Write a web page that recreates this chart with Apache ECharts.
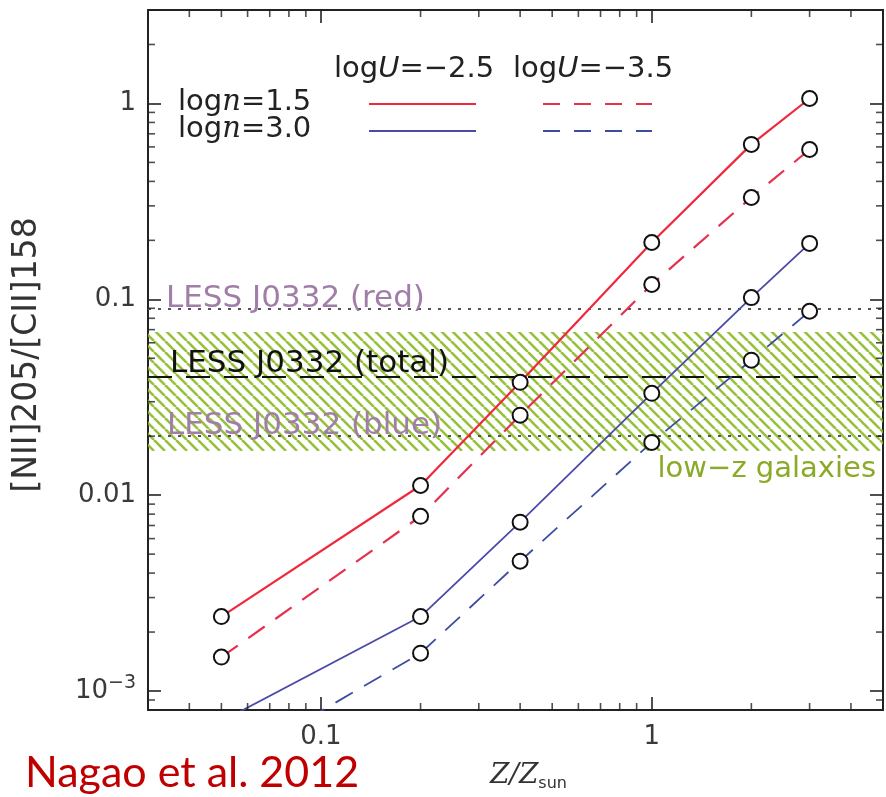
<!DOCTYPE html>
<html>
<head>
<meta charset="utf-8">
<script src="https://cdn.jsdelivr.net/npm/echarts@6/dist/echarts.min.js"></script>
<style>
html,body{margin:0;padding:0;background:#fff;}
#main{width:886px;height:797px;}
</style>
</head>
<body>
<div id="main"></div>
<script>
// ---- data ----
var metallicity = [0.05, 0.2, 0.4, 1, 2, 3];
var n15_U25 = [0.0024, 0.0112, 0.0377, 0.195, 0.618, 1.06];
var n15_U35 = [0.00149, 0.0078, 0.0256, 0.119, 0.331, 0.582];
var n30_U25 = [0.0007, 0.0024, 0.00728, 0.0331, 0.102, 0.193];
var n30_U35 = [0.0004, 0.00156, 0.0046, 0.0186, 0.0489, 0.0869];

var lessRed = 0.088;
var lessTotal = 0.044;
var lessBlue = 0.0202;
var lowzBand = [0.0168, 0.068];

var xRange = [0.03, 5];
var yRange = [0.0008, 3];
var xMinorTicks = [0.04,0.05,0.06,0.07,0.08,0.09,0.2,0.3,0.4,0.5,0.6,0.7,0.8,0.9,2,3,4];
var yMinorTicks = [0.0009,0.002,0.003,0.004,0.005,0.006,0.007,0.008,0.009,
                   0.02,0.03,0.04,0.05,0.06,0.07,0.08,0.09,
                   0.2,0.3,0.4,0.5,0.6,0.7,0.8,0.9,2];

function pairs(xs, ys){ return xs.map(function(x,i){return [x, ys[i]];}); }

// hatch pattern
var HS = 11;
var hatch = document.createElement('canvas');
hatch.width = HS; hatch.height = HS;
(function(){
  var c = hatch.getContext('2d');
  c.strokeStyle = 'rgba(138,186,38,0.9)';
  c.lineWidth = 2.6;
  [-HS,0,HS].forEach(function(o){
    c.beginPath(); c.moveTo(o,0); c.lineTo(o+HS,HS); c.stroke();
  });
})();

var FONT = 'DejaVu Sans';
var chart = echarts.init(document.getElementById('main'));

function isPow10(v){ var l = Math.log10(v); return Math.abs(l - Math.round(l)) < 1e-6; }

var symStyle = {color:'#111', borderColor:'#111', borderWidth:2};
var tickColor = '#222';
var ML = 7; // minor tick length

function tickSeries(data, size, offset){
  return {type:'scatter', data:data, symbol:'rect', symbolSize:size, symbolOffset:offset,
    itemStyle:{color:tickColor}, silent:true, clip:false, z:6};
}

var option = {
  backgroundColor:'#fff',
  animation:false,
  grid:{left:148, top:10, width:740, height:700, containLabel:false},
  xAxis:[{
    type:'log', min:xRange[0], max:xRange[1], logBase:10,
    axisLine:{show:true, onZero:false, lineStyle:{color:'#222', width:2}},
    axisTick:{show:true, inside:true, length:13, lineStyle:{color:'#222', width:1.6}},
    axisLabel:{color:'#3a3a3a', fontFamily:FONT, fontSize:26, margin:14,
      formatter:function(v){ return isPow10(v) ? String(+v.toPrecision(6)) : ''; }},
    splitLine:{show:false},
    name:'{z|Z/Z}{s|sun}', nameLocation:'middle', nameGap:50,
    nameTextStyle:{padding:[0,0,0,26], rich:{
      z:{fontFamily:'DejaVu Serif', fontStyle:'italic', fontSize:28, color:'#333'},
      s:{fontFamily:FONT, fontSize:16, color:'#333', padding:[16,0,0,0]}
    }}
  },{
    type:'log', min:xRange[0], max:xRange[1], position:'top',
    axisLine:{show:true, lineStyle:{color:'#222', width:2}},
    axisTick:{show:true, inside:true, length:13, lineStyle:{color:'#222', width:1.6}},
    axisLabel:{show:false}, splitLine:{show:false}
  }],
  yAxis:[{
    type:'log', min:yRange[0], max:yRange[1], logBase:10,
    axisLine:{show:true, onZero:false, lineStyle:{color:'#222', width:2}},
    axisTick:{show:true, inside:true, length:13, lineStyle:{color:'#222', width:1.6}},
    axisLabel:{color:'#3a3a3a', fontFamily:FONT, fontSize:26, margin:12,
      formatter:function(v){
        if (!isPow10(v)) return '';
        if (v < 0.005) return '{b|10}{sup|−3}';
        return String(+v.toPrecision(6));
      },
      rich:{b:{fontFamily:FONT, fontSize:26, color:'#3a3a3a'},
            sup:{fontFamily:FONT, fontSize:19, color:'#3a3a3a', padding:[0,0,16,0]}}
    },
    splitLine:{show:false},
    name:'[NII]205/[CII]158', nameLocation:'middle', nameGap:104, nameRotate:90,
    nameTextStyle:{fontFamily:FONT, fontSize:33, color:'#333', padding:[0,0,0,10]}
  },{
    type:'log', min:yRange[0], max:yRange[1], position:'right',
    axisLine:{show:true, lineStyle:{color:'#222', width:2}},
    axisTick:{show:true, inside:true, length:13, lineStyle:{color:'#222', width:1.6}},
    axisLabel:{show:false}, splitLine:{show:false}
  }],
  series:[
    {
      type:'line', name:'band', data:[], z:1,
      markArea:{silent:true,
        itemStyle:{color:{image:hatch, repeat:'repeat'}},
        label:{show:true, position:'insideBottomRight', offset:[-2,38], formatter:'low−z galaxies',
          color:'#8aaa28', fontFamily:FONT, fontSize:29},
        data:[[{yAxis:lowzBand[0]},{yAxis:lowzBand[1]}]]
      },
      markLine:{silent:true, symbol:['none','none'],
        data:[
          {yAxis:lessRed, lineStyle:{type:[3,7], color:'#555', width:2},
            label:{formatter:'LESS J0332 (red)', color:'#a07ea8', distance:-6}},
          {yAxis:lessTotal, lineStyle:{type:[24,14], color:'#111', width:2},
            label:{formatter:'LESS J0332 (total)', color:'#111', distance:-2}},
          {yAxis:lessBlue, lineStyle:{type:[3,7], color:'#555', width:2},
            label:{formatter:'LESS J0332 (blue)', color:'#a07ea8', distance:-5}}
        ],
        label:{show:true, position:'insideStartTop', distance:0, padding:[0,0,0,24],
          fontFamily:FONT, fontSize:31}
      }
    },
    {type:'line', name:'n15_U25', data:pairs(metallicity, n15_U25), z:5,
      lineStyle:{color:'#f0283c', width:2.2}, symbol:'emptyCircle', symbolSize:15, itemStyle:symStyle},
    {type:'line', name:'n15_U35', data:pairs(metallicity, n15_U35), z:5,
      lineStyle:{color:'#e6304e', width:2.2, type:[20,13]}, symbol:'emptyCircle', symbolSize:15, itemStyle:symStyle},
    {type:'line', name:'n30_U25', data:pairs(metallicity, n30_U25), z:5,
      lineStyle:{color:'#4a4aa8', width:1.8}, symbol:'emptyCircle', symbolSize:15, itemStyle:symStyle},
    {type:'line', name:'n30_U35', data:pairs(metallicity, n30_U35), z:5,
      lineStyle:{color:'#3e4ca0', width:1.8, type:[20,13]}, symbol:'emptyCircle', symbolSize:15, itemStyle:symStyle},
    tickSeries(xMinorTicks.map(function(v){return [v, yRange[0]];}), [1.6, ML], [0, -ML/2]),
    tickSeries(xMinorTicks.map(function(v){return [v, yRange[1]];}), [1.6, ML], [0, ML/2]),
    tickSeries(yMinorTicks.map(function(v){return [xRange[0], v];}), [ML, 1.6], [ML/2, 0]),
    tickSeries(yMinorTicks.map(function(v){return [xRange[1], v];}), [ML, 1.6], [-ML/2, 0])
  ],
  graphic:[
    {type:'text', left:334, top:55, style:{text:'{a|log}{i|U}{a|=−2.5}', rich:{
      a:{fontFamily:FONT, fontSize:29, fill:'#222'}, i:{fontFamily:FONT, fontStyle:'italic', fontSize:29, fill:'#222'}}}},
    {type:'text', left:513, top:55, style:{text:'{a|log}{i|U}{a|=−3.5}', rich:{
      a:{fontFamily:FONT, fontSize:29, fill:'#222'}, i:{fontFamily:FONT, fontStyle:'italic', fontSize:29, fill:'#222'}}}},
    {type:'text', left:178, top:88, style:{text:'{a|log}{i|n}{a|=1.5}', rich:{
      a:{fontFamily:FONT, fontSize:29, fill:'#222'}, i:{fontFamily:'DejaVu Serif', fontStyle:'italic', fontSize:29, fill:'#222'}}}},
    {type:'text', left:178, top:115, style:{text:'{a|log}{i|n}{a|=3.0}', rich:{
      a:{fontFamily:FONT, fontSize:29, fill:'#222'}, i:{fontFamily:'DejaVu Serif', fontStyle:'italic', fontSize:29, fill:'#222'}}}},
    {type:'line', shape:{x1:369,y1:104,x2:476,y2:104}, style:{stroke:'#f0283c', lineWidth:2.2}},
    {type:'line', shape:{x1:543,y1:104,x2:652,y2:104}, style:{stroke:'#e6304e', lineWidth:2.2, lineDash:[17,14]}},
    {type:'line', shape:{x1:369,y1:131,x2:476,y2:131}, style:{stroke:'#4a4aa8', lineWidth:2}},
    {type:'line', shape:{x1:543,y1:131,x2:652,y2:131}, style:{stroke:'#3e4ca0', lineWidth:2, lineDash:[17,14]}},
    {type:'text', left:25, top:752, style:{text:'Nagao et al. 2012', fontFamily:'Lato', fontSize:43, fill:'#c00000'}}
  ]
};
chart.setOption(option);
</script>
</body>
</html>
